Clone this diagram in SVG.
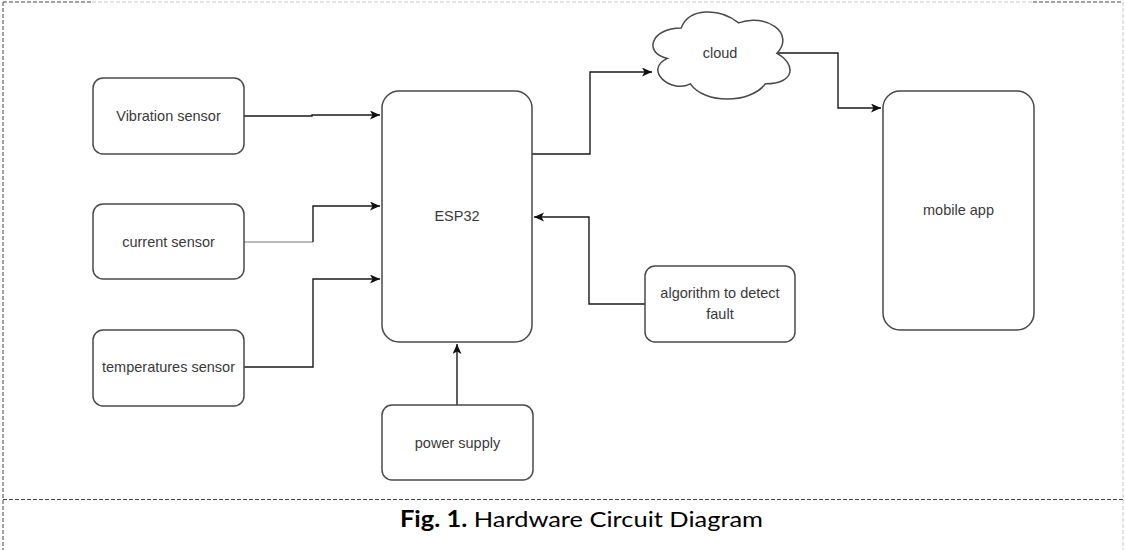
<svg xmlns="http://www.w3.org/2000/svg" width="1125" height="550" viewBox="0 0 1125 550">
  <style>
    .box { fill: #ffffff; stroke: #4a4a4a; stroke-width: 1.5; }
    .lbl { font-family: "Liberation Sans", Arial, sans-serif; font-size: 14.5px; fill: #3a3a3a; text-anchor: middle; }
    .conn { fill: none; stroke: #1a1a1a; stroke-width: 1.4; }
    .thin { fill: none; stroke: #777777; stroke-width: 1; }
    .frameDark { fill: none; stroke: #444444; stroke-width: 1; stroke-dasharray: 4 2; }
    .frameLight { fill: none; stroke: #c8c8c8; stroke-width: 1; stroke-dasharray: 4 2; }
    .cap { font-family: "Lato", "Liberation Sans", sans-serif; font-size: 22px; fill: #000000; text-anchor: middle; }
  </style>
  <defs>
    <marker id="arrow" markerUnits="userSpaceOnUse" markerWidth="11" markerHeight="10" refX="10" refY="4.5" orient="auto">
      <path d="M0,0 L10,4.5 L0,9 L2.5,4.5 Z" fill="#111111"/>
    </marker>
  </defs>
  <rect x="0" y="0" width="1125" height="550" fill="#ffffff"/>

  <g id="frame">
    <line class="frameDark" x1="3" y1="2" x2="92" y2="2"/>
    <line class="frameLight" x1="92" y1="2" x2="1033" y2="2"/>
    <line class="frameDark" x1="1033" y1="2" x2="1123" y2="2"/>
    <line class="frameDark" x1="3" y1="2" x2="3" y2="550"/>
    <line class="frameLight" x1="1123" y1="2" x2="1123" y2="550"/>
    <line class="frameDark" x1="3" y1="499.5" x2="1123" y2="499.5"/>
  </g>

  <g id="connectors">
    <path class="conn" d="M244,116 H312 V115 H380" marker-end="url(#arrow)"/>
    <path class="thin" d="M244,242 H313"/>
    <path class="conn" d="M313,242 V206 H380" marker-end="url(#arrow)"/>
    <path class="conn" d="M244,367 H313 V279 H380" marker-end="url(#arrow)"/>
    <path class="conn" d="M457,405 V344" marker-end="url(#arrow)"/>
    <path class="conn" d="M645,304 H589 V217 H534" marker-end="url(#arrow)"/>
    <path class="conn" d="M532,154 H590 V72 H652" marker-end="url(#arrow)"/>
    <path class="conn" d="M777,53 H838 V108 H881" marker-end="url(#arrow)"/>
  </g>

  <g id="vibration">
    <rect class="box" x="93" y="78" width="151" height="76" rx="10"/>
    <text class="lbl" x="168.5" y="121">Vibration sensor</text>
  </g>
  <g id="current">
    <rect class="box" x="93" y="204" width="151" height="75" rx="10"/>
    <text class="lbl" x="168.5" y="247">current sensor</text>
  </g>
  <g id="temperature">
    <rect class="box" x="93" y="330" width="151" height="76" rx="10"/>
    <text class="lbl" x="168.5" y="372">temperatures sensor</text>
  </g>
  <g id="esp32">
    <rect class="box" x="382" y="91" width="150" height="251" rx="17"/>
    <text class="lbl" x="457" y="221">ESP32</text>
  </g>
  <g id="power">
    <rect class="box" x="382" y="405" width="151" height="75" rx="10"/>
    <text class="lbl" x="457.5" y="448">power supply</text>
  </g>
  <g id="algorithm">
    <rect class="box" x="645" y="266" width="150" height="76" rx="10"/>
    <text class="lbl" x="720" y="298">algorithm to detect</text>
    <text class="lbl" x="720" y="319">fault</text>
  </g>
  <g id="cloud">
    <path class="box" d="M681.25,27.98 C650.65,27.98 643,53.35 667.48,58.43 C643,69.59 670.54,93.95 690.43,83.8 C704.2,104.1 750.1,104.1 765.4,83.8 C796,83.8 796,63.5 776.88,53.35 C796,33.05 765.4,12.75 738.63,22.9 C719.5,7.68 688.9,7.68 681.25,27.98 Z"/>
    <text class="lbl" x="720" y="58">cloud</text>
  </g>
  <g id="mobile">
    <rect class="box" x="883" y="91" width="151" height="239" rx="17"/>
    <text class="lbl" x="958.5" y="215">mobile app</text>
  </g>

  <g id="caption">
    <text class="cap" x="581.5" y="527" textLength="363" lengthAdjust="spacingAndGlyphs"><tspan font-weight="bold">Fig. 1.</tspan> Hardware Circuit Diagram</text>
  </g>
</svg>
